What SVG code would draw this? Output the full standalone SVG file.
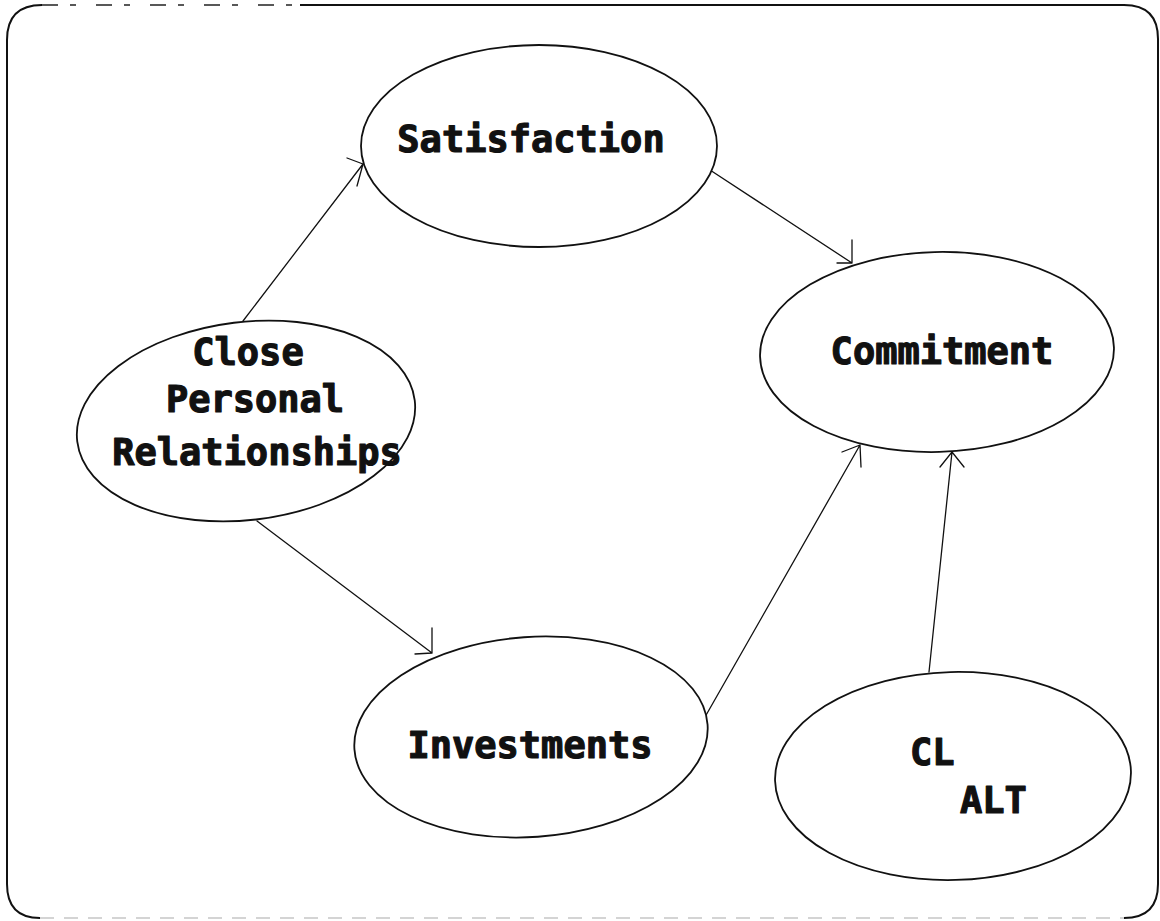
<svg xmlns="http://www.w3.org/2000/svg" width="1160" height="921" viewBox="0 0 1160 921">
  <style>
    .frame { fill: none; stroke: #111; stroke-width: 2; }
    .frame-faint { fill: none; stroke: #aaa; stroke-width: 1.2; stroke-dasharray: 14 10; }
    .frame-dash { fill: none; stroke: #222; stroke-width: 1.6; stroke-dasharray: 16 12 6 20; }
    .node ellipse { fill: #fff; stroke: #111; stroke-width: 1.8; }
    .node text { font-family: "DejaVu Sans Mono", "Liberation Mono", monospace; font-weight: bold; font-size: 37px; fill: #111; stroke: #111; stroke-width: 1.2; stroke-linejoin: round; }
    .mid { text-anchor: middle; }
    .conn path { fill: none; stroke: #111; stroke-width: 1.3; stroke-linecap: round; stroke-linejoin: round; }
  </style>

  <!-- outer rounded frame -->
  <g id="frame">
    <path class="frame" d="M300,5 L1124,5 Q1158,5 1158,39 L1158,884 Q1158,918 1124,918"/>
    <path class="frame" d="M40,918 Q7,918 7,884 L7,40 Q7,5 42,5"/>
    <path class="frame-dash" d="M42,5 L300,5"/>
    <path class="frame-faint" d="M40,918 L1124,918"/>
  </g>

  <!-- connectors -->
  <g id="connectors" class="conn">
    <path id="cpr-sat" d="M243,321 L363,164 M347,158 L363,164 L357,186"/>
    <path id="sat-com" d="M710,170 L852,263 M837,263 L852,263 L852,240"/>
    <path id="cpr-inv" d="M257,521 L432,653 M415,654 L432,653 L432,628"/>
    <path id="inv-com" d="M705,717 L860,445 M842,452 L860,445 L861,467"/>
    <path id="alt-com" d="M929,672 L952,452 M940,467 L952,452 L964,467"/>
  </g>

  <g id="satisfaction" class="node">
    <ellipse cx="539" cy="146" rx="178" ry="101"/>
    <text class="mid" x="531" y="152">Satisfaction</text>
  </g>

  <g id="commitment" class="node">
    <ellipse cx="937" cy="352" rx="177" ry="100" transform="rotate(-1.5 937 352)"/>
    <text class="mid" x="942" y="364">Commitment</text>
  </g>

  <g id="close-personal-relationships" class="node">
    <ellipse cx="246" cy="421" rx="170" ry="99" transform="rotate(-7 246 421)"/>
    <text class="mid" x="248" y="365">Close</text>
    <text class="mid" x="255" y="412">Personal</text>
    <text class="mid" x="257" y="465">Relationships</text>
  </g>

  <g id="investments" class="node">
    <ellipse cx="531" cy="737" rx="177" ry="100" transform="rotate(-4 531 737)"/>
    <text class="mid" x="530" y="758">Investments</text>
  </g>

  <g id="cl-alt" class="node">
    <ellipse cx="953" cy="776" rx="178" ry="104" transform="rotate(-1.5 953 776)"/>
    <text x="910" y="765">CL</text>
    <text x="960" y="813">ALT</text>
  </g>
</svg>
